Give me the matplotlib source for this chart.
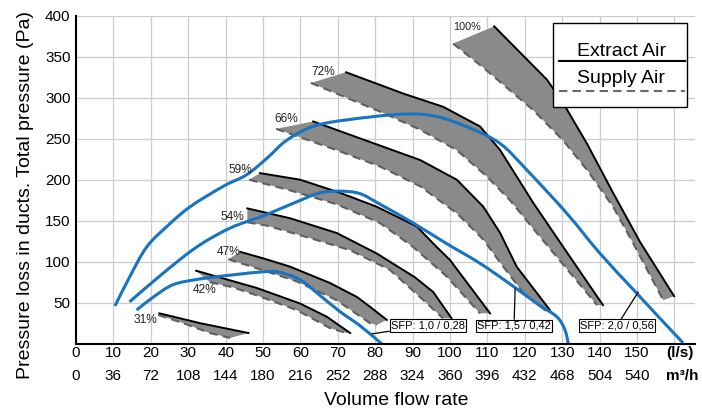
import matplotlib
matplotlib.use("Agg")
import matplotlib.pyplot as plt
from matplotlib.patches import Rectangle, PathPatch
from matplotlib.path import Path

plt.rcParams['font.family'] = ['Liberation Sans', 'DejaVu Sans']

# fan curves: extract air (solid) and supply air (dashed), x = l/s, y = Pa
ext100_x = [111.8, 125.9, 130.3, 136.6, 143.7, 150.8, 159.9]
ext100_y = [387, 322, 293, 244, 183, 124, 58]
sup100_x = [100.8, 108.8, 122.2, 130.2, 136.6, 143.6, 148.9, 157.0]
sup100_y = [366, 337, 285, 248, 212, 167, 123, 53]

ext72_x = [72.2, 87.5, 98.1, 108.0, 113.4, 122.2, 131.3, 140.9]
ext72_y = [331, 305, 289, 265, 236, 172, 111, 47]
sup72_x = [62.8, 81.3, 92.0, 101.8, 109.8, 116.0, 123.2, 139.3]
sup72_y = [318, 283, 261, 236, 204, 175, 135, 47]

ext66_x = [63.4, 78.6, 92.0, 101.8, 108.9, 113.4, 117.8, 126.7]
ext66_y = [271, 246, 224, 200, 167, 135, 94, 41]
sup66_x = [53.5, 69.7, 81.3, 92.0, 101.8, 108.9, 114.2, 119.6, 125.9]
sup66_y = [262, 236, 216, 192, 159, 127, 94, 62, 39]

ext59_x = [49.2, 59.9, 70.6, 80.4, 91.1, 96.4, 100.0, 110.7]
ext59_y = [208, 200, 184, 167, 143, 118, 102, 37]
sup59_x = [46.3, 57.2, 69.7, 81.3, 90.1, 99.1, 108.0]
sup59_y = [200, 187, 170, 147, 118, 82, 37]

ext54_x = [45.8, 57.2, 69.7, 80.4, 90.6, 95.5, 100.4]
ext54_y = [165, 153, 135, 110, 81, 63, 31]
sup54_x = [45.8, 51.0, 61.7, 73.3, 83.9, 92.9, 98.1]
sup54_y = [148, 144, 130, 114, 90, 53, 31]

ext47_x = [43.9, 50.1, 57.2, 67.9, 75.1, 78.6, 83.1]
ext47_y = [112, 104, 94, 74, 57, 45, 29]
sup47_x = [40.7, 48.3, 59.0, 69.7, 78.6, 80.4]
sup47_y = [103, 92, 76, 53, 25, 23]

ext42_x = [32.1, 48.3, 59.9, 67.0, 73.3]
ext42_y = [89, 68, 49, 33, 13]
sup42_x = [35.8, 41.7, 48.3, 59.0, 67.9, 72.4]
sup42_y = [75, 69, 59, 41, 19, 13]

ext31_x = [22.3, 33.2, 46.1]
ext31_y = [37, 25, 13]
sup31_x = [22.0, 28.7, 35.8, 41.2]
sup31_y = [35, 25, 13, 7]

# duct system curves (blue)
blueA_x = [10.4, 14.4, 18.9, 24.3, 30.5, 39.4, 45.6, 51.0, 56.3, 63.4, 72.4, 87.5,
           96.4, 105.3, 113.4, 120.5, 131.2, 140.1, 149.0, 156.1, 162.3]
blueA_y = [46, 82, 118, 143, 167, 192, 206, 226, 248, 265, 273, 280,
           277, 263, 244, 212, 159, 110, 66, 31, 1]
blueB_x = [14.3, 23.3, 32.3, 41.2, 50.1, 59.0, 65.2, 70.6, 75.9, 81.3, 90.2,
           99.1, 108.0, 116.9, 123.2, 128.5, 130.7, 131.6]
blueB_y = [51, 86, 118, 141, 156, 173, 184, 186, 183, 170, 147,
           122, 98, 70, 49, 33, 17, 0]
blueC_x = [16.2, 20.7, 26.0, 33.2, 42.1, 51.0, 54.5, 59.9, 65.2, 70.6, 75.9, 81.7]
blueC_y = [41, 57, 72, 79, 84, 88, 87, 78, 59, 39, 22, 0]

pct_labels = ["100%", "72%", "66%", "59%", "54%", "47%", "42%", "31%"]
pct_x = [104.5, 66.0, 56.1, 43.9, 41.7, 40.7, 34.4, 18.6]
pct_y = [386, 331, 274, 212, 155, 112, 65, 29]

sfp_labels = ["SFP: 1,0 / 0,28", "SFP: 1,5 / 0,42", "SFP: 2,0 / 0,56"]
sfp_x = [94.1, 117.1, 144.6]
sfp_y = [22.2, 21.6, 21.8]
sfp_px = [79.1, 117.4, 150.3]   # point on curve the leader goes to
sfp_py = [12, 67, 63]

ls_ticks = list(range(0, 151, 10))
m3h_ticks = [0, 36, 72, 108, 144, 180, 216, 252, 288, 324, 360, 396, 432, 468, 504, 540]

fig = plt.figure(figsize=(7.02, 4.12), dpi=100)
ax = fig.add_axes([0.1083, 0.1658, 0.8818, 0.7961])


def band(ex, ey, sx, sy):
    ax.fill(ex + sx[::-1], ey + sy[::-1], color='#8a8a8a', lw=0, zorder=2)
    ax.plot(sx, sy, color='#5f5f5f', lw=1.5, dashes=(4, 2.5), zorder=3)
    ax.plot(ex, ey, color='black', lw=1.4, zorder=4)


def smooth(xs, ys):
    # smooth curve through the read points (catmull-rom as bezier)
    p = list(zip(xs, ys))
    n = len(p)
    verts, codes = [p[0]], [Path.MOVETO]
    for i in range(n - 1):
        p0 = p[i - 1] if i > 0 else p[i]
        p1, p2 = p[i], p[i + 1]
        p3 = p[i + 2] if i + 2 < n else p[i + 1]
        c1 = (p1[0] + (p2[0] - p0[0]) / 6, p1[1] + (p2[1] - p0[1]) / 6)
        c2 = (p2[0] - (p3[0] - p1[0]) / 6, p2[1] - (p3[1] - p1[1]) / 6)
        verts += [c1, c2, p2]
        codes += [Path.CURVE4] * 3
    return Path(verts, codes)


band(ext100_x, ext100_y, sup100_x, sup100_y)
band(ext72_x, ext72_y, sup72_x, sup72_y)
band(ext66_x, ext66_y, sup66_x, sup66_y)
band(ext59_x, ext59_y, sup59_x, sup59_y)
band(ext54_x, ext54_y, sup54_x, sup54_y)
band(ext47_x, ext47_y, sup47_x, sup47_y)
band(ext42_x, ext42_y, sup42_x, sup42_y)
band(ext31_x, ext31_y, sup31_x, sup31_y)

for bx, by in [(blueA_x, blueA_y), (blueB_x, blueB_y), (blueC_x, blueC_y)]:
    ax.add_patch(PathPatch(smooth(bx, by), fill=False, ec='#1874c0', lw=2.2,
                           zorder=5, capstyle='butt'))

for t, x, y in zip(pct_labels, pct_x, pct_y):
    ax.text(x, y, t, ha='center', va='center', fontsize=7.8 if t == "100%" else 8.6,
            color='#222222', zorder=6)

for t, x, y, px, py in zip(sfp_labels, sfp_x, sfp_y, sfp_px, sfp_py):
    ax.annotate(t, xy=(px, py), xytext=(x, y), ha='center', va='center', fontsize=8,
                bbox=dict(boxstyle='square,pad=0.12', fc='white', ec='black', lw=0.8),
                arrowprops=dict(arrowstyle='-', color='black', lw=0.9, shrinkA=0, shrinkB=0),
                zorder=7)

# legend box
ax.add_patch(Rectangle((0.7706, 0.7216), 0.2165, 0.2561, transform=ax.transAxes,
                       fc='white', ec='black', lw=1.0, zorder=8))
ax.plot([0.7803, 0.9839], [0.862, 0.862], transform=ax.transAxes, color='black', lw=1.5, zorder=9)
ax.plot([0.7803, 0.9839], [0.7705, 0.7705], transform=ax.transAxes, color='#6a6a6a', lw=1.5,
        dashes=(4, 2.5), zorder=9)
ax.text(0.881, 0.8756, "Extract Air", transform=ax.transAxes, ha='center', va='baseline',
        fontsize=14, zorder=9)
ax.text(0.881, 0.7957, "Supply Air", transform=ax.transAxes, ha='center', va='baseline',
        fontsize=14, zorder=9)

# axes
ax.set_xlim(0, 165.5)
ax.set_ylim(0, 400)
ax.set_xticks(list(range(0, 161, 10)))
ax.set_xticklabels([f"{a}\n{b}" for a, b in zip(ls_ticks, m3h_ticks)] + [""], fontsize=11)
for lbl in ax.get_xticklabels():
    lbl.set_linespacing(1.75)
ax.set_yticks(list(range(50, 401, 50)))
ax.set_yticklabels([str(v) for v in range(50, 401, 50)], fontsize=11)
ax.tick_params(axis='both', length=0)
ax.tick_params(axis='x', pad=2)
ax.tick_params(axis='y', pad=4)
ax.annotate("(l/s)\nm³/h", xy=(157.8, 0), xycoords=ax.get_xaxis_transform(),
            xytext=(0, -2), textcoords='offset points', ha='left', va='top',
            fontsize=11, fontweight='bold', linespacing=1.75)

ax.grid(True, color='#cccccc', lw=0.9)
ax.set_axisbelow(True)
for s in ['top', 'right']:
    ax.spines[s].set_visible(False)
for s in ['left', 'bottom']:
    ax.spines[s].set_linewidth(1.5)
    ax.spines[s].set_zorder(10)

fig.text(0.037, 0.527, "Pressure loss in ducts. Total pressure (Pa)", rotation=90,
         ha='center', va='center', fontsize=14)
fig.text(0.564, 0.029, "Volume flow rate", ha='center', va='center', fontsize=14)

fig.savefig("out.png", dpi=100)
